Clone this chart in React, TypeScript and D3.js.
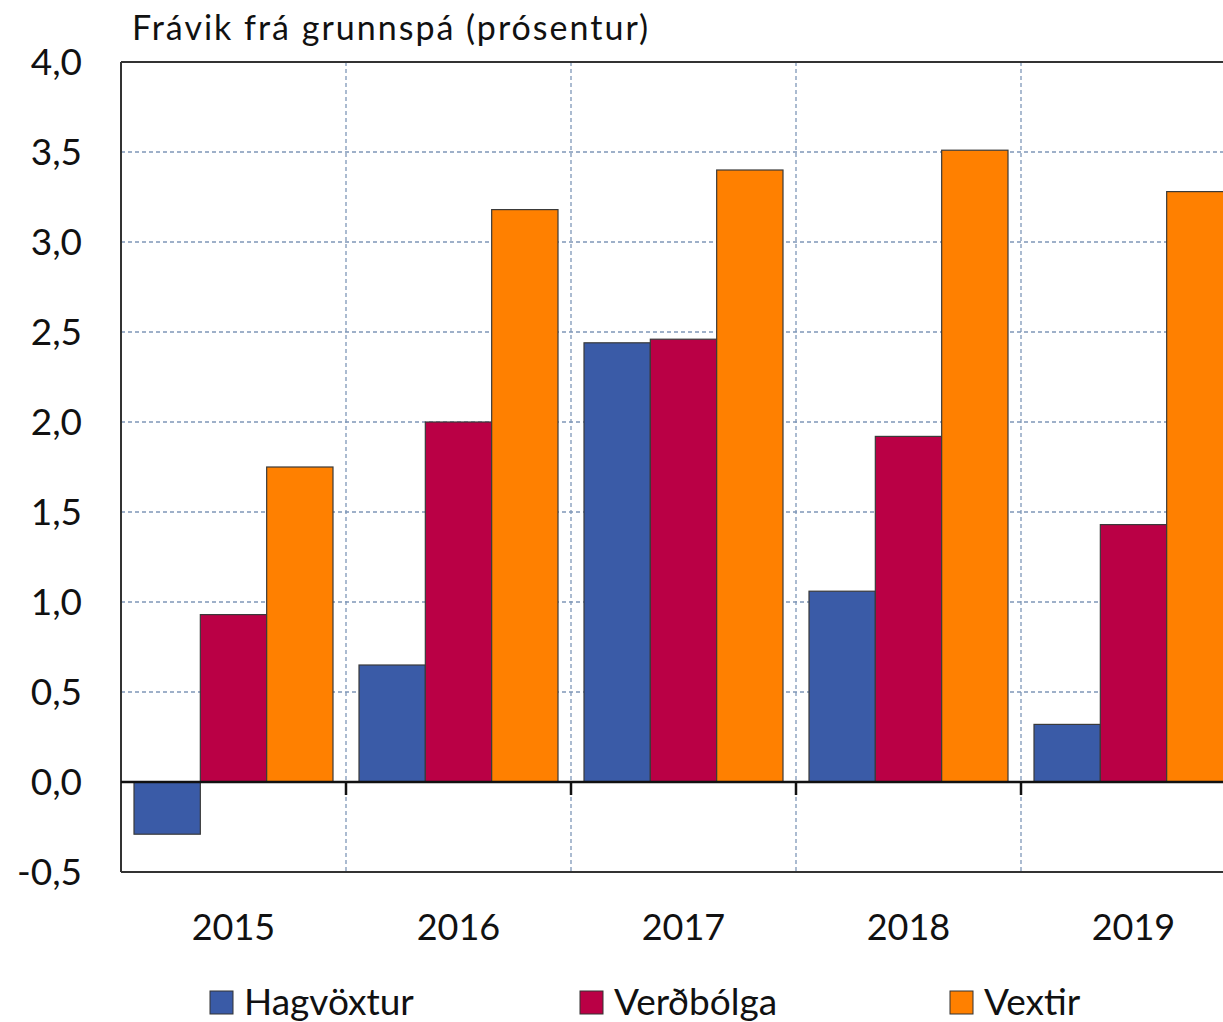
import React from "react";
import * as d3 from "d3";

const categories = ["2015", "2016", "2017", "2018", "2019"];
const seriesNames = ["Hagvöxtur", "Verðbólga", "Vextir"];
const hagvoxtur = [-0.29, 0.65, 2.44, 1.06, 0.32];
const verdbolga = [0.93, 2.0, 2.46, 1.92, 1.43];
const vextir = [1.75, 3.18, 3.4, 3.51, 3.28];
const yTicks = [-0.5, 0, 0.5, 1, 1.5, 2, 2.5, 3, 3.5, 4];
const colors = ["#3A5BA7", "#BA0045", "#FF8000"];

const W = 1223;
const H = 1022;
const FONT = "Lato, 'Open Sans', sans-serif";

export default function App() {
  const left = 121;
  const top = 62;
  const bottom = 872;
  const catW = 225;
  const right = left + catW * categories.length;
  const groupPad = 13;

  const x = d3.scaleBand<string>().domain(categories).range([left, right]).paddingInner(0).paddingOuter(0);
  const step = (catW - 2 * groupPad) / seriesNames.length;
  const inner = d3
    .scaleBand<string>()
    .domain(seriesNames)
    .range([0, x.bandwidth()])
    .paddingInner(0)
    .paddingOuter(groupPad / step);
  const y = d3.scaleLinear().domain([-0.5, 4]).range([bottom, top]);
  const values = [hagvoxtur, verdbolga, vextir];
  const fmt = (v: number) => d3.format(".1f")(v).replace(".", ",").replace("\u2212", "-");

  const legendX = [210, 580, 950];
  const gridColor = "#7F97B8";

  return (
    <svg
      width={W}
      height={H}
      style={{ position: "absolute", left: 0, top: 0, background: "#fff" }}
      fontFamily={FONT}
    >
      <rect x={0} y={0} width={W} height={H} fill="#fff" />
      {/* grid */}
      {yTicks
        .filter((t) => t !== 0 && t !== -0.5 && t !== 4)
        .map((t) => (
          <line
            key={"gy" + t}
            x1={left}
            x2={right}
            y1={y(t)}
            y2={y(t)}
            stroke={gridColor}
            strokeWidth={1.3}
            strokeDasharray="4,3"
          />
        ))}
      {categories.slice(1).map((c) => (
        <line
          key={"gx" + c}
          x1={x(c)!}
          x2={x(c)!}
          y1={top}
          y2={bottom}
          stroke={gridColor}
          strokeWidth={1.3}
          strokeDasharray="4,3"
        />
      ))}
      {/* bars */}
      {categories.map((c, i) =>
        seriesNames.map((s, j) => {
          const v = values[j][i];
          const x0 = x(c)! + inner(s)!;
          return (
            <rect
              key={c + s}
              x={x0}
              width={inner.bandwidth()}
              y={Math.min(y(v), y(0))}
              height={Math.abs(y(v) - y(0))}
              fill={colors[j]}
              stroke="#3a3a3a"
              strokeWidth={1.2}
            />
          );
        })
      )}
      {/* frame */}
      <line x1={left} x2={right} y1={top} y2={top} stroke="#333" strokeWidth={2} />
      <line x1={left} x2={right} y1={bottom} y2={bottom} stroke="#333" strokeWidth={2} />
      <line x1={left} x2={left} y1={top} y2={bottom} stroke="#333" strokeWidth={2} />
      <line x1={right} x2={right} y1={top} y2={bottom} stroke="#333" strokeWidth={2} />
      {/* zero line */}
      <line x1={left} x2={right} y1={y(0)} y2={y(0)} stroke="#111" strokeWidth={2.5} />
      {categories.slice(1).map((c) => (
        <line key={"tk" + c} x1={x(c)!} x2={x(c)!} y1={y(0)} y2={y(0) + 13} stroke="#111" strokeWidth={2.5} />
      ))}
      {/* y labels */}
      {yTicks.map((t) => (
        <text key={"yl" + t} x={82} y={y(t)} dy="0.36em" textAnchor="end" fontSize={37} fill="#111">
          {fmt(t)}
        </text>
      ))}
      {/* x labels */}
      {categories.map((c) => (
        <text key={"xl" + c} x={x(c)! + x.bandwidth() / 2} y={940} textAnchor="middle" fontSize={36} fill="#111">
          {c}
        </text>
      ))}
      {/* title */}
      <text x={132} y={40} fontSize={34} letterSpacing={2.0} fill="#111">
        Frávik frá grunnspá (prósentur)
      </text>
      {/* legend */}
      {seriesNames.map((s, j) => (
        <g key={"lg" + s}>
          <rect x={legendX[j]} y={991} width={23} height={23} fill={colors[j]} stroke="#333" strokeWidth={1} />
          <text x={legendX[j] + 34} y={1015} fontSize={37} fill="#111">
            {s}
          </text>
        </g>
      ))}
    </svg>
  );
}
